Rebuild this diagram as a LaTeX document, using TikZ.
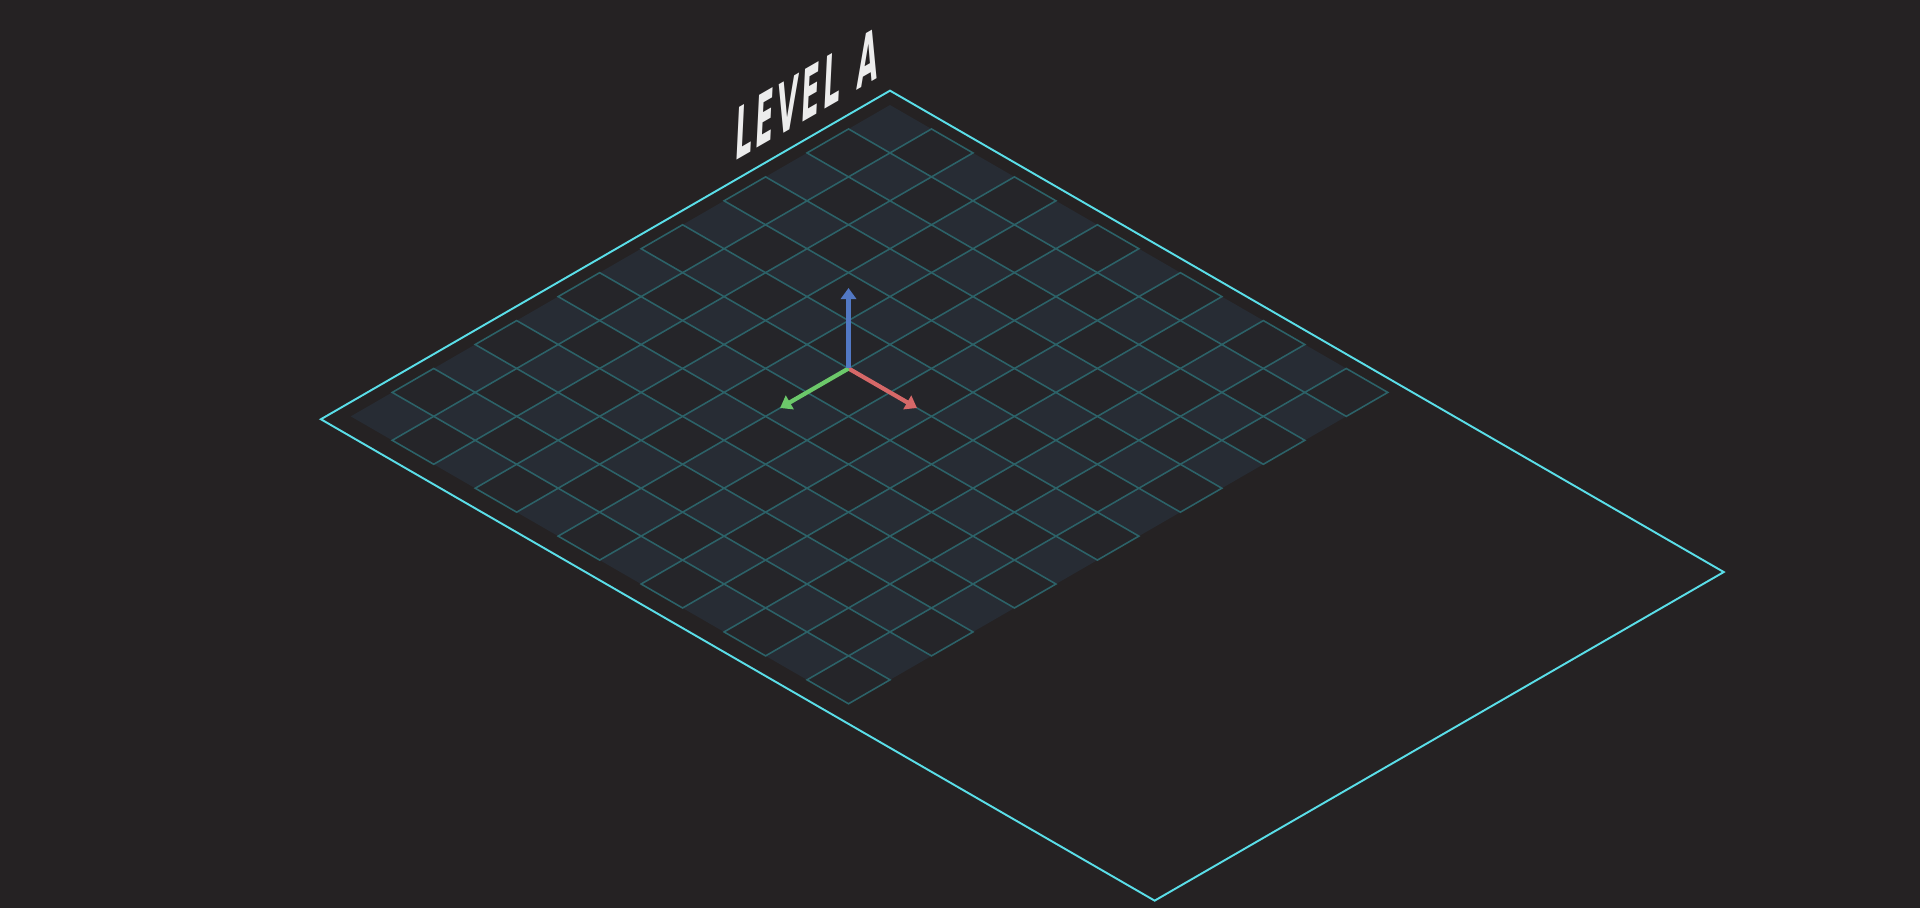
\documentclass[tikz,border=0pt]{standalone}
\usepackage{fontspec}
\usetikzlibrary{arrows.meta}
\newfontfamily\levelfont{DejaVu Sans}
\newcommand\lgap{\hspace{2.6pt}}
\definecolor{bgcol}{RGB}{37,34,35}
\definecolor{lightcell}{RGB}{39,44,52}
\definecolor{darkcell}{RGB}{37,37,41}
\definecolor{gridcol}{RGB}{44,98,104}
\definecolor{framecol}{RGB}{90,222,232}
\definecolor{labelcol}{RGB}{236,236,236}
\definecolor{xcol}{RGB}{214,104,104}
\definecolor{ycol}{RGB}{108,200,106}
\definecolor{zcol}{RGB}{82,120,196}
\begin{document}
\begin{tikzpicture}[
  cell/.style={fill=darkcell,draw=gridcol,line width=0.45pt},
  axis/.style={line width=1.2pt,-{Triangle[width=4.4pt,length=3.2pt]}}]
\fill[bgcol](0,0)rectangle(19.2,-9.08);
\useasboundingbox(0,0)rectangle(19.2,-9.08);
\begin{scope}[shift={(8.90,-1.05)},x={(0.4148cm,-0.2395cm)},y={(-0.4148cm,-0.2395cm)},z={(0cm,0.479cm)}]
\draw[framecol,line width=0.55pt](-0.3,-0.3)--(19.8,-0.3)--(19.8,13.42)--(-0.3,13.42)--cycle;
\fill[lightcell](0,0)--(12,0)--(12,13)--(0,13)--cycle;
\foreach \i in {0,...,11}
  \foreach \j in {0,...,12}{
    \pgfmathparse{int(mod(\i+\j,2))}
    \ifnum\pgfmathresult=1
      \draw[cell](\i,\j)--++(1,0)--++(0,1)--++(-1,0)--cycle;
    \fi}
\coordinate(O) at (5,6,0);
\coordinate(X) at (6.65,6,0);
\coordinate(Y) at (5,7.65,0);
\coordinate(Z) at (5,6,1.68);
\draw[axis,xcol](O)--(X);
\draw[axis,ycol](O)--(Y);
\draw[axis,zcol](O)--(Z);
\end{scope}
\begin{scope}[shift={(7.34,-1.616)},yslant=0.577,xslant=0.05,xscale=0.38]
\node[transform shape,anchor=base west,inner sep=0,text=labelcol,font=\levelfont\bfseries\fontsize{20}{20}\selectfont](title) at (0,0){L\lgap E\lgap V\lgap E\lgap L\hspace{13pt}A};
\end{scope}
\end{tikzpicture}
\end{document}
